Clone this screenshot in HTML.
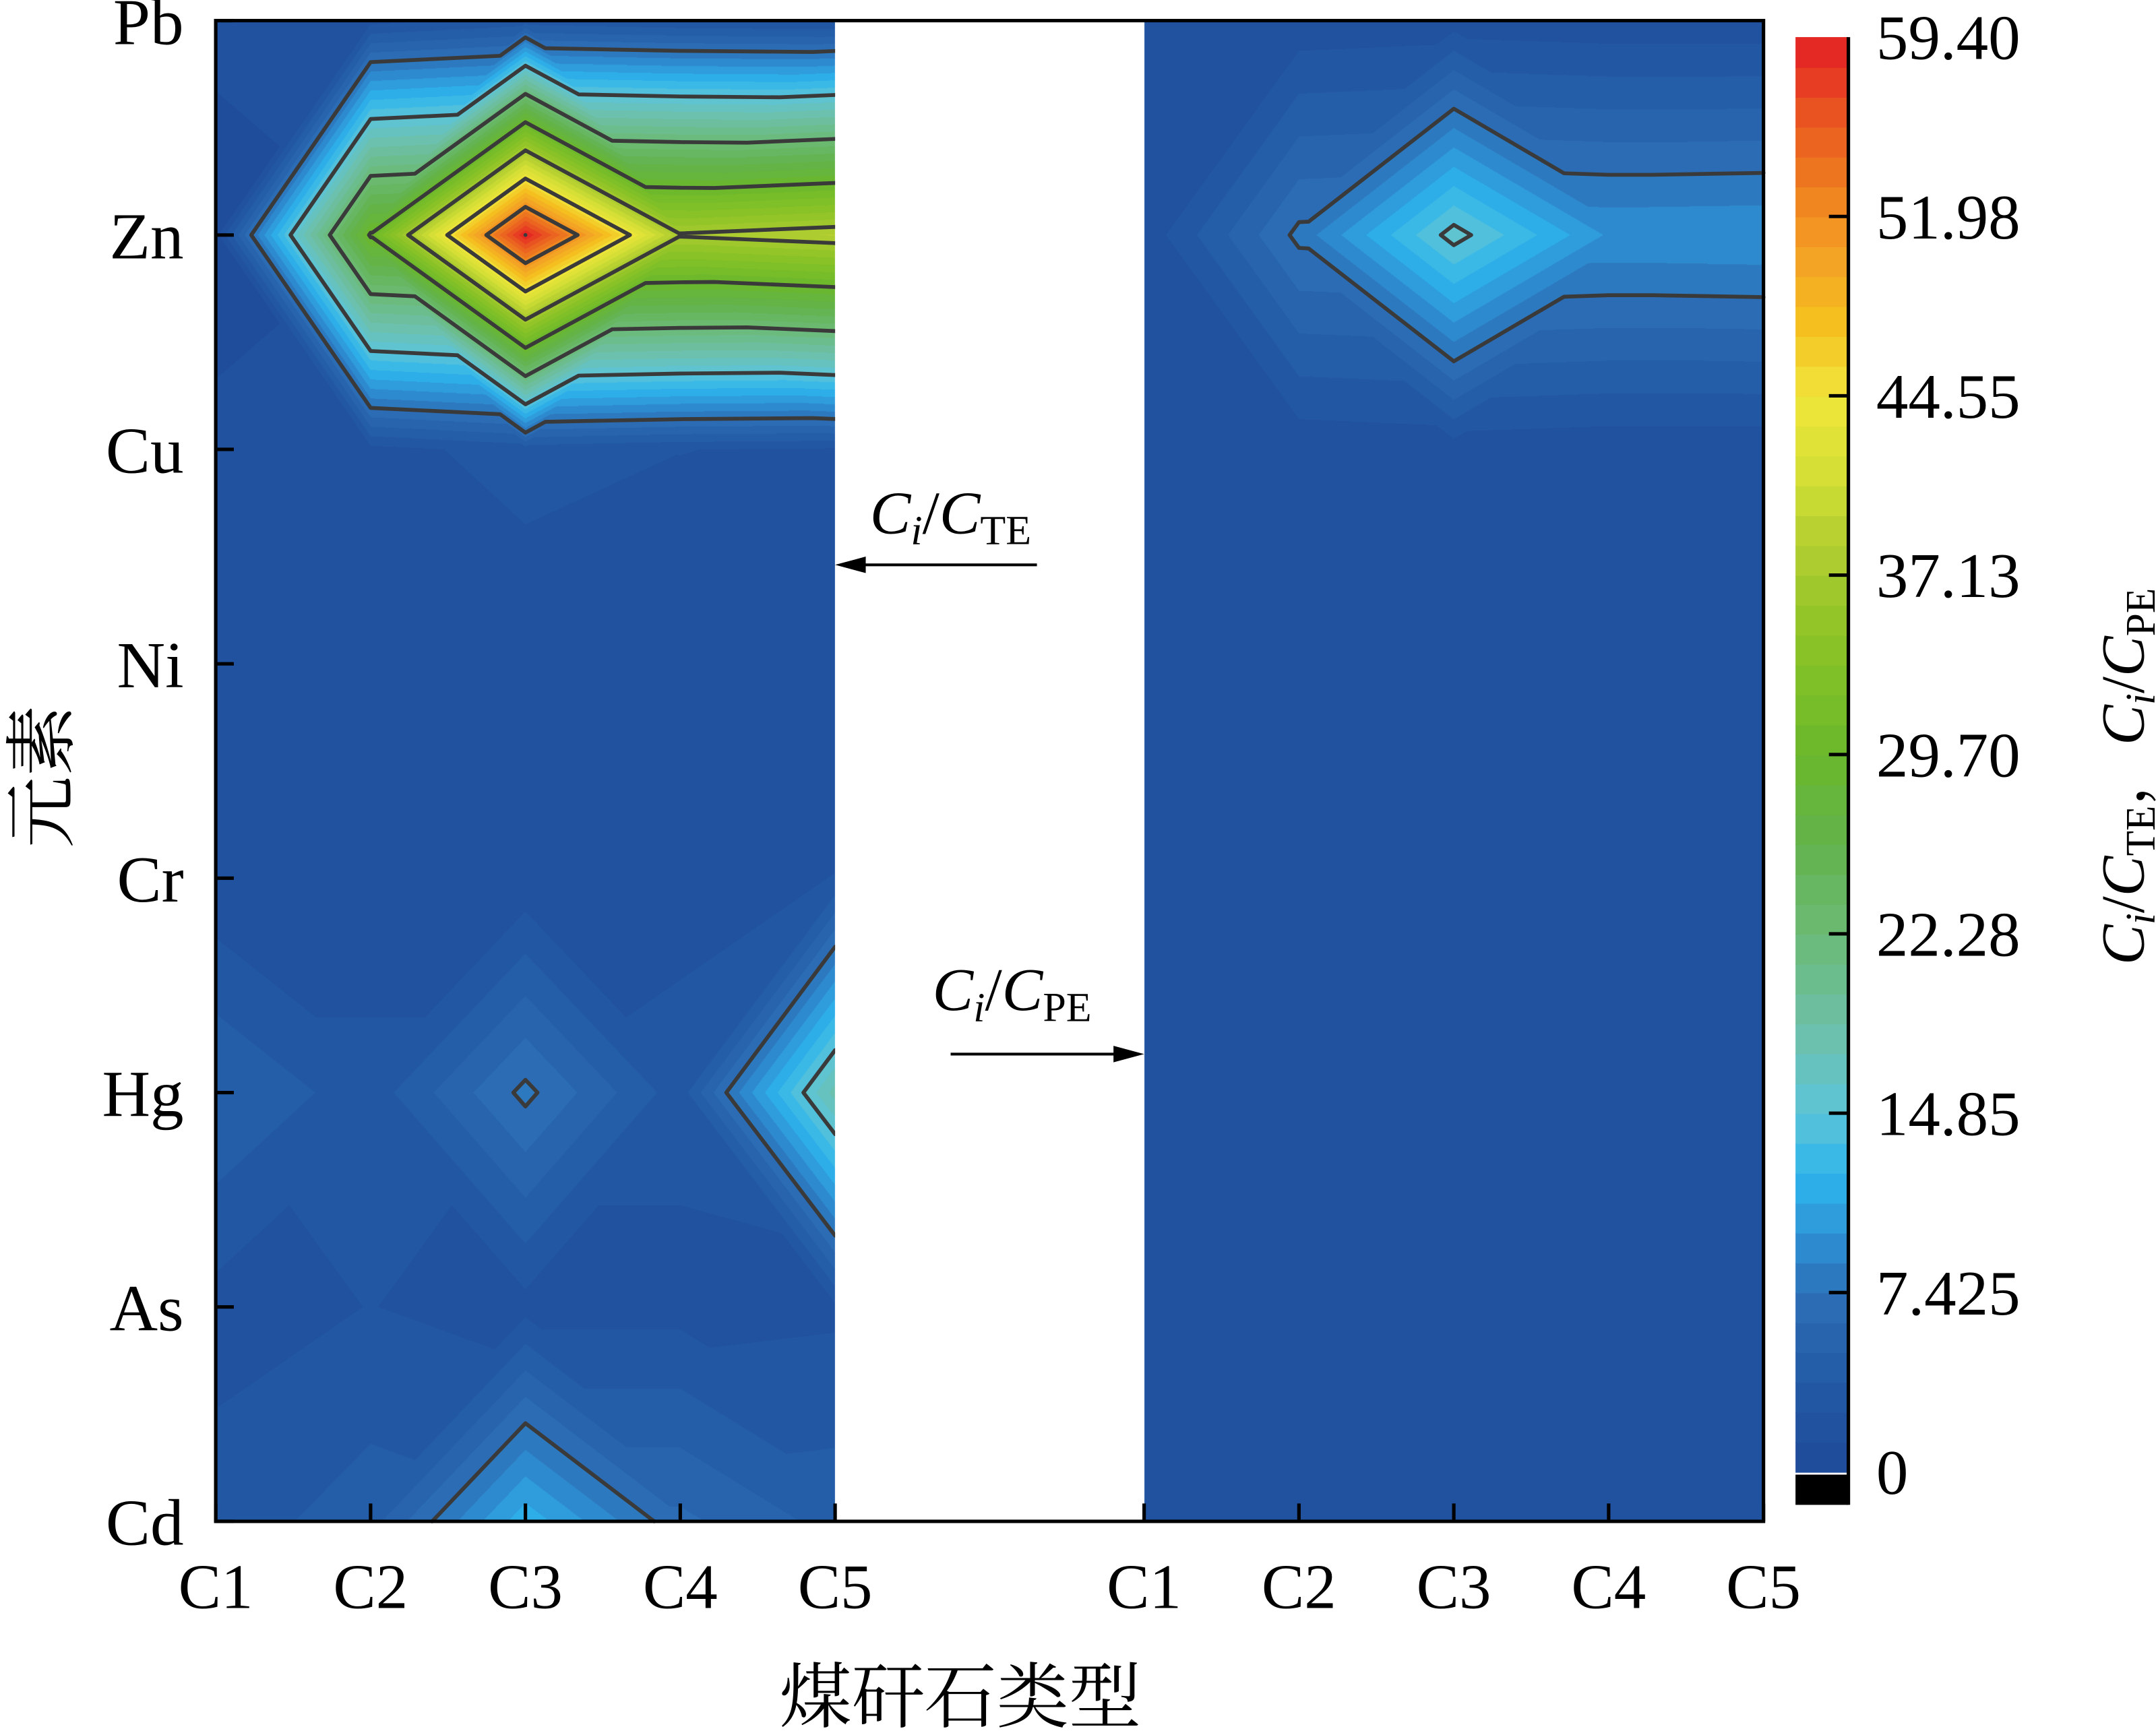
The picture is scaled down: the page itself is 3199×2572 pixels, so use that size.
<!DOCTYPE html>
<html><head><meta charset="utf-8"><style>
html,body{margin:0;padding:0;background:#fff;}
#wrap{position:relative;width:3199px;height:2572px;overflow:hidden;}
#cv{position:absolute;left:0;top:0;}
#sv{position:absolute;left:0;top:0;}
text{font-family:"Liberation Serif","Noto Serif CJK SC",serif;fill:#000;}
</style></head><body>
<div id="wrap">
<canvas id="cv" width="3199" height="2572"></canvas>
<svg id="sv" width="3199" height="2572" viewBox="0 0 1549 1261" preserveAspectRatio="none" xmlns="http://www.w3.org/2000/svg">
<g id="contours"></g>
<rect x="600" y="15" width="222" height="1092" fill="#fff"/>
<rect x="155" y="15" width="1112" height="1092" fill="none" stroke="#000" stroke-width="2.5"/>
<g id="ticks"></g>
<g id="cbar"></g>
<g id="labels"></g>
<text x="690" y="1253" font-size="52" text-anchor="middle">煤矸石类型</text>
<text transform="translate(48,565) rotate(-90)" font-size="52" text-anchor="middle">元素</text>
<text transform="translate(1540,565) rotate(-90)" font-size="44" text-anchor="middle"><tspan font-style="italic">C</tspan><tspan font-style="italic" font-size="30" dy="8">i</tspan><tspan dy="-8">/</tspan><tspan font-style="italic">C</tspan><tspan font-size="30" dy="8">TE</tspan><tspan dy="-8">，</tspan><tspan font-style="italic">C</tspan><tspan font-style="italic" font-size="30" dy="8">i</tspan><tspan dy="-8">/</tspan><tspan font-style="italic">C</tspan><tspan font-size="30" dy="8">PE</tspan></text>
<text x="625" y="388" font-size="44"><tspan font-style="italic">C</tspan><tspan font-style="italic" font-size="30" dy="8">i</tspan><tspan dy="-8">/</tspan><tspan font-style="italic">C</tspan><tspan font-size="30" dy="8">TE</tspan></text>
<line x1="745" y1="411" x2="615" y2="411" stroke="#000" stroke-width="2"/>
<polygon points="600,411 622,405 622,417" fill="#000"/>
<text x="670" y="735" font-size="44"><tspan font-style="italic">C</tspan><tspan font-style="italic" font-size="30" dy="8">i</tspan><tspan dy="-8">/</tspan><tspan font-style="italic">C</tspan><tspan font-size="30" dy="8">PE</tspan></text>
<line x1="683" y1="767" x2="808" y2="767" stroke="#000" stroke-width="2"/>
<polygon points="822,767 800,761 800,773" fill="#000"/>
</svg>
</div>
<script>
// ---- data ----
const categories = ["C1","C2","C3","C4","C5"];
const elements = ["Pb","Zn","Cu","Ni","Cr","Hg","As","Cd"];
// rows = elements (top to bottom), columns = C1..C5
const teValues = [
  [1.5, 2.0, 3.0, 2.5, 2.3],
  [0.7, 30.0, 59.4, 37.4, 38.5],
  [1.5, 2.0, 3.0, 2.5, 2.3],
  [1.5, 1.5, 1.5, 1.6, 1.5],
  [1.5, 1.5, 1.5, 2.0, 2.5],
  [5.0, 3.0, 7.8, 3.0, 17.9],
  [2.0, 2.5, 2.0, 2.0, 2.2],
  [3.0, 4.4, 12.0, 6.5, 4.5]
];
const peValues = [
  [1.5, 1.6, 1.8, 1.6, 1.6],
  [1.6, 7.8, 15.5, 9.7, 9.8],
  [1.5, 1.6, 1.8, 1.6, 1.6],
  [1.5, 1.5, 1.5, 1.5, 1.5],
  [1.5, 1.5, 1.5, 1.5, 1.5],
  [1.5, 1.5, 1.8, 1.5, 1.6],
  [1.5, 1.5, 1.5, 1.5, 1.5],
  [1.5, 1.5, 1.6, 1.5, 1.5]
];
const colorTicks = ["0","7.425","14.85","22.28","29.70","37.13","44.55","51.98","59.40"];
const zMax = 59.4;
const nBands = 48;
const contourStep = 7.425;

// ---- geometry (viewBox units) ----
const SX = 3199/1549, SY = 2572/1261;
const T = 15, B = 1107;
const panels = [{x0:155, x1:600, data:teValues},{x0:822, x1:1267, data:peValues}];
const CB = {x0:1290, x1:1328, yZero:1071, yTop:27};
const NS = "http://www.w3.org/2000/svg";

const stops = [
 [0,"#1e4a9a"],[0.085,"#2560aa"],[0.125,"#2d70b8"],[0.17,"#2f96d8"],[0.205,"#2db4ec"],
 [0.25,"#5bc4d8"],[0.3,"#6cc0b0"],[0.37,"#6cbb7a"],[0.44,"#62b24a"],[0.5,"#6ab82c"],
 [0.57,"#86c226"],[0.63,"#a8ca2e"],[0.7,"#d6e036"],[0.75,"#f0e53a"],[0.8,"#f5c020"],
 [0.85,"#f3a024"],[0.88,"#f08a20"],[0.94,"#ea5a20"],[1,"#e31e24"]];
function hex(h){return [parseInt(h.substr(1,2),16),parseInt(h.substr(3,2),16),parseInt(h.substr(5,2),16)];}
function cmap(t){
  for(let k=1;k<stops.length;k++){ if(t<=stops[k][0]){const a=stops[k-1],b=stops[k];const f=(t-a[0])/(b[0]-a[0]);const ca=hex(a[1]),cb=hex(b[1]);return ca.map((v,i)=>Math.round(v+f*(cb[i]-v)));}}
  return hex(stops[stops.length-1][1]);
}
const bandColors=[];for(let i=0;i<nBands;i++)bandColors.push(cmap((i+0.5)/nBands));
function bandOf(v){let i=Math.floor(v/(zMax/nBands));return Math.max(0,Math.min(nBands-1,i));}

function useBC(g,i,j){
  const a=g[j][i],b=g[j][i+1],c=g[j+1][i],d=g[j+1][i+1];const m=(a+b+c+d)/4;
  const dv=[Math.abs(a-m),Math.abs(b-m),Math.abs(c-m),Math.abs(d-m)];
  let k=0;for(let q=1;q<4;q++)if(dv[q]>dv[k])k=q;
  return (k===0||k===3);
}
function tris(g,i,j){
  const A=[i,j,g[j][i]],Bp=[i+1,j,g[j][i+1]],C=[i,j+1,g[j+1][i]],D=[i+1,j+1,g[j+1][i+1]];
  return useBC(g,i,j)?[[A,Bp,C],[Bp,D,C]]:[[A,Bp,D],[A,C,D]];
}
function valueAt(g,u,v){
  let i=Math.min(3,Math.floor(u)), j=Math.min(6,Math.floor(v));
  const fu=u-i, fv=v-j;
  const a=g[j][i],b=g[j][i+1],c=g[j+1][i],d=g[j+1][i+1];
  if(useBC(g,i,j)){
    if(fu+fv<=1) return a+fu*(b-a)+fv*(c-a);
    return d+(1-fu)*(c-d)+(1-fv)*(b-d);
  } else {
    if(fu>=fv) return a+fu*(b-a)+fv*(d-b);
    return a+fv*(c-a)+fu*(d-c);
  }
}

// ---- fill ----
const cv=document.getElementById('cv');const ctx=cv.getContext('2d');
const img=ctx.createImageData(3199,2572);const px=img.data;
for(const p of panels){
  const X0=Math.round(p.x0*SX),X1=Math.round(p.x1*SX),Y0=Math.round(T*SY),Y1=Math.round(B*SY);
  for(let y=Y0;y<Y1;y++){
    const v=((y+0.5)/SY-T)/(B-T)*7;
    for(let x=X0;x<X1;x++){
      const u=((x+0.5)/SX-p.x0)/(p.x1-p.x0)*4;
      const c=bandColors[bandOf(valueAt(p.data,Math.max(0,Math.min(4,u)),Math.max(0,Math.min(7,v))))];
      const o=(y*3199+x)*4;px[o]=c[0];px[o+1]=c[1];px[o+2]=c[2];px[o+3]=255;
    }
  }
}
ctx.putImageData(img,0,0);

// ---- contours ----
const cg=document.getElementById('contours');
for(const p of panels){
  const xs=u=>p.x0+u/4*(p.x1-p.x0), ys=v=>T+v/7*(B-T);
  let d="";
  for(let j=0;j<7;j++)for(let i=0;i<4;i++){
    for(const tr of tris(p.data,i,j)){
      for(let L=contourStep;L<zMax;L+=contourStep){
        const pts=[];
        for(let e=0;e<3;e++){const P=tr[e],Q=tr[(e+1)%3];
          if((P[2]-L)*(Q[2]-L)<0){const f=(L-P[2])/(Q[2]-P[2]);pts.push([P[0]+f*(Q[0]-P[0]),P[1]+f*(Q[1]-P[1])]);}}
        if(pts.length===2)d+=`M${xs(pts[0][0]).toFixed(1)},${ys(pts[0][1]).toFixed(1)}L${xs(pts[1][0]).toFixed(1)},${ys(pts[1][1]).toFixed(1)}`;
      }
    }
  }
  const path=document.createElementNS(NS,'path');
  path.setAttribute('d',d);path.setAttribute('stroke','#3a3a3a');path.setAttribute('stroke-width','2.8');path.setAttribute('fill','none');path.setAttribute('stroke-linecap','round');
  
  
  cg.appendChild(path);
}

// ---- ticks & labels ----
const tg=document.getElementById('ticks'), lg=document.getElementById('labels');
function ln(g,x1,y1,x2,y2,name){const l=document.createElementNS(NS,'line');l.setAttribute('x1',x1);l.setAttribute('y1',y1);l.setAttribute('x2',x2);l.setAttribute('y2',y2);l.setAttribute('stroke','#000');l.setAttribute('stroke-width','2.5');
  
  
  g.appendChild(l);}
function tx(g,x,y,s,size,anchor,name){const t=document.createElementNS(NS,'text');t.setAttribute('x',x);t.setAttribute('y',y);t.setAttribute('font-size',size);t.setAttribute('text-anchor',anchor);t.textContent=s;
  
  
  g.appendChild(t);}
for(const p of panels){
  categories.forEach((c,i)=>{const x=p.x0+i/4*(p.x1-p.x0);
    ln(tg,x,B,x,B-13,'x-tick');
    tx(lg,x,1170,c,46,'middle','x-tick-label');});
}
elements.forEach((e,j)=>{const y=T+j/7*(B-T);
  ln(tg,155,y,168,y,'y-tick');
  tx(lg,132,y+17,e,48,'end','y-tick-label');});

// ---- colorbar ----
const cb=document.getElementById('cbar');
const bh=(CB.yZero-CB.yTop)/nBands;
for(let i=0;i<nBands;i++){const c=bandColors[i];const r=document.createElementNS(NS,'rect');
  r.setAttribute('x',CB.x0);r.setAttribute('y',(CB.yZero-(i+1)*bh).toFixed(2));r.setAttribute('width',CB.x1-CB.x0);r.setAttribute('height',(bh+0.6).toFixed(2));
  r.setAttribute('fill',`rgb(${c[0]},${c[1]},${c[2]})`);
  
  
  cb.appendChild(r);}
const blk=document.createElementNS(NS,'rect');blk.setAttribute('x',CB.x0);blk.setAttribute('y',CB.yZero+2);blk.setAttribute('width',CB.x1-CB.x0);blk.setAttribute('height',22);blk.setAttribute('fill','#000');


cb.appendChild(blk);
ln(cb,CB.x1,CB.yTop,CB.x1,CB.yZero+24,'colorbar-border');
colorTicks.forEach((s,i)=>{const y=CB.yZero-i/(colorTicks.length-1)*(CB.yZero-CB.yTop);
  if(i>0&&i<colorTicks.length-1)ln(cb,CB.x1-14,y,CB.x1,y,'colorbar-tick');
  tx(cb,1348,y+16,s,46,'start','colorbar-tick-label');});
</script>
</body></html>
